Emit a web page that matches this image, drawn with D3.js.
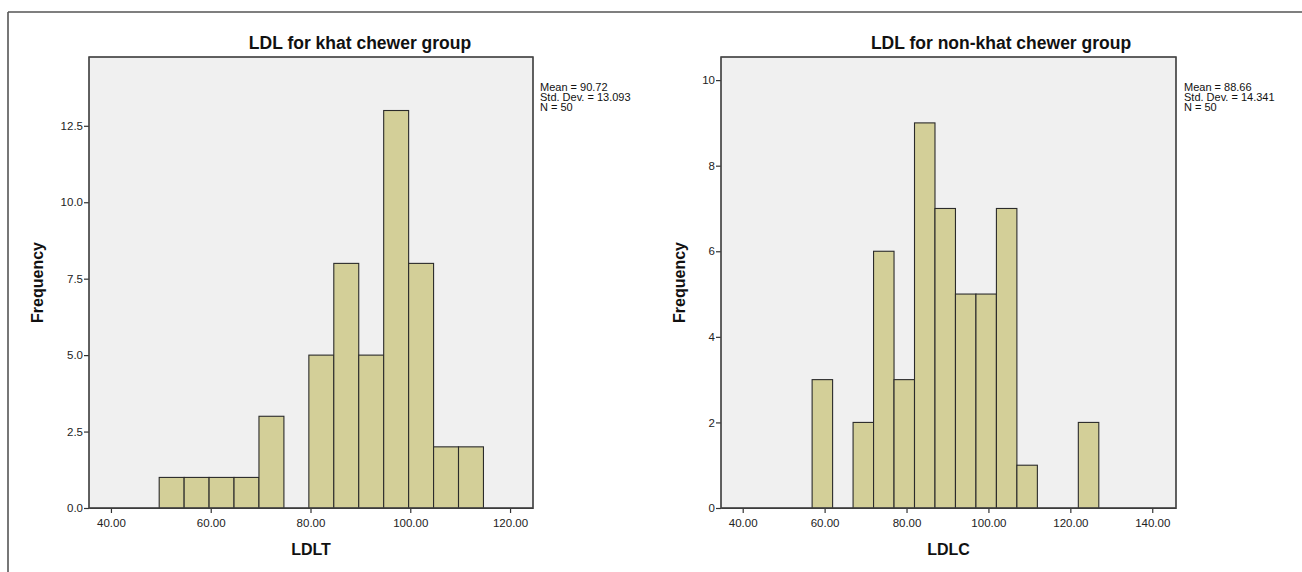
<!DOCTYPE html>
<html>
<head>
<meta charset="utf-8">
<script src="https://cdn.jsdelivr.net/npm/d3@7"></script>
<style>
  body { margin: 0; background: #fff; }
  svg { display: block; font-family: "Liberation Sans", Arial, sans-serif; }
  .plotBg { fill: #f0f0f0; stroke: #444; stroke-width: 1.2; }
  .bar { fill: #d3cf98; stroke: #2b2b2b; stroke-width: 1.1; }
  .axis path, .axis line { stroke: #333; stroke-width: 1.2; }
  .axis text { font-size: 11.5px; fill: #222; }
  .title { font-size: 17.5px; font-weight: bold; fill: #111; }
  .axisTitle { font-size: 16px; font-weight: bold; fill: #111; }
  .stats { font-size: 11px; fill: #111; }
</style>
</head>
<body>
<script>
(function(){

    //histogram values
    var binWidth = 5;
    var khatBinStart = 49.67;
    var khatCounts = [1, 1, 1, 1, 3, 0, 5, 8, 5, 13, 8, 2, 2];
    var khatStats = ["Mean = 90.72", "Std. Dev. = 13.093", "N = 50"];
    var khatXTicks = [40, 60, 80, 100, 120];
    var khatYTicks = [0, 2.5, 5, 7.5, 10, 12.5];

    var nonBinStart = 56.95;
    var nonCounts = [3, 0, 2, 6, 3, 9, 7, 5, 5, 7, 1, 0, 0, 2];
    var nonStats = ["Mean = 88.66", "Std. Dev. = 14.341", "N = 50"];
    var nonXTicks = [40, 60, 80, 100, 120, 140];
    var nonYTicks = [0, 2, 4, 6, 8, 10];

    var width = 1302, height = 572;

    var svg = d3.select("body")
        .append("svg")
        .attr("width", width)
        .attr("height", height);

    //outer frame (top and left edges only visible)
    svg.append("line")
        .attr("x1", 8).attr("x2", width)
        .attr("y1", 12).attr("y2", 12)
        .attr("stroke", "#555").attr("stroke-width", 1.6);
    svg.append("line")
        .attr("x1", 8).attr("x2", 8)
        .attr("y1", 12).attr("y2", height)
        .attr("stroke", "#555").attr("stroke-width", 1.6);

    drawHistogram({
        title: "LDL for khat chewer group",
        xLabel: "LDLT",
        start: khatBinStart,
        counts: khatCounts,
        stats: khatStats,
        xTicks: khatXTicks,
        yTicks: khatYTicks,
        yFormat: ".1f",
        xDomain: [35.6, 124.6],
        yMax: 14.75,
        left: 89, right: 533, top: 57, bottom: 508,
        titleX: 360, yTitleX: 43, statsX: 540
    });

    drawHistogram({
        title: "LDL for non-khat chewer group",
        xLabel: "LDLC",
        start: nonBinStart,
        counts: nonCounts,
        stats: nonStats,
        xTicks: nonXTicks,
        yTicks: nonYTicks,
        yFormat: "d",
        xDomain: [34.7, 145.8],
        yMax: 10.54,
        left: 721, right: 1176, top: 57, bottom: 508,
        titleX: 1001, yTitleX: 685, statsX: 1184
    });

    function drawHistogram(o){
        var x = d3.scaleLinear().domain(o.xDomain).range([o.left, o.right]);
        var y = d3.scaleLinear().domain([0, o.yMax]).range([o.bottom, o.top]);

        var g = svg.append("g");

        //plot background
        g.append("rect")
            .attr("class", "plotBg")
            .attr("x", o.left)
            .attr("y", o.top)
            .attr("width", o.right - o.left)
            .attr("height", o.bottom - o.top);

        //bins
        var bins = o.counts.map(function(c, i){
            return { x0: o.start + i * binWidth, x1: o.start + (i + 1) * binWidth, n: c };
        }).filter(function(d){ return d.n > 0; });

        g.selectAll(".bar")
            .data(bins)
            .enter()
            .append("rect")
            .attr("class", "bar")
            .attr("x", function(d){ return x(d.x0); })
            .attr("width", function(d){ return x(d.x1) - x(d.x0); })
            .attr("y", function(d){ return y(d.n); })
            .attr("height", function(d){ return y(0) - y(d.n); });

        //axes
        var xAxis = d3.axisBottom(x)
            .tickValues(o.xTicks)
            .tickFormat(d3.format(".2f"))
            .tickSize(5)
            .tickSizeOuter(0);
        g.append("g")
            .attr("class", "axis")
            .attr("transform", "translate(0," + o.bottom + ")")
            .call(xAxis)
            .call(function(s){ s.selectAll("text").attr("dy", "0.95em"); });

        var yAxis = d3.axisLeft(y)
            .tickValues(o.yTicks)
            .tickFormat(d3.format(o.yFormat))
            .tickSize(5)
            .tickSizeOuter(0);
        g.append("g")
            .attr("class", "axis")
            .attr("transform", "translate(" + o.left + ",0)")
            .call(yAxis)
            .call(function(s){ s.select(".domain").remove(); s.selectAll("text").attr("x", -6); });

        //frame on top of bars
        g.append("rect")
            .attr("x", o.left)
            .attr("y", o.top)
            .attr("width", o.right - o.left)
            .attr("height", o.bottom - o.top)
            .attr("fill", "none")
            .attr("stroke", "#444")
            .attr("stroke-width", 1.2);

        //titles
        g.append("text")
            .attr("class", "title")
            .attr("x", o.titleX)
            .attr("y", 49)
            .attr("text-anchor", "middle")
            .text(o.title);

        g.append("text")
            .attr("class", "axisTitle")
            .attr("x", (o.left + o.right) / 2)
            .attr("y", 555)
            .attr("text-anchor", "middle")
            .text(o.xLabel);

        g.append("text")
            .attr("class", "axisTitle")
            .attr("transform", "translate(" + o.yTitleX + "," + ((o.top + o.bottom) / 2) + ") rotate(-90)")
            .attr("text-anchor", "middle")
            .text("Frequency");

        //summary stats
        g.selectAll(".stats")
            .data(o.stats)
            .enter()
            .append("text")
            .attr("class", "stats")
            .attr("x", o.statsX)
            .attr("y", function(d, i){ return 91 + i * 10; })
            .text(function(d){ return d; });
    }
})();
</script>
</body>
</html>
